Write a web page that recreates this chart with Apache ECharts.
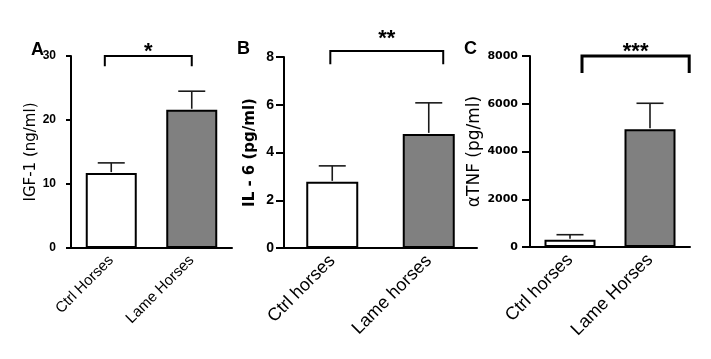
<!DOCTYPE html>
<html>
<head>
<meta charset="utf-8">
<script src="https://cdn.jsdelivr.net/npm/echarts@6/dist/echarts.min.js"></script>
<style>
  html, body { margin: 0; padding: 0; background: #fff; }
  #chart { width: 711px; height: 359px; }
</style>
</head>
<body>
<div id="chart"></div>
<script>
// panel A - IGF-1
const groupsA = ['Ctrl Horses', 'Lame Horses']
const igfMean = [11.7, 21.6]
const igfUpper = [13.3, 24.5]
// panel B - IL-6
const groupsB = ['Ctrl horses', 'Lame horses']
const il6Mean = [2.77, 4.78]
const il6Upper = [3.44, 6.08]
// panel C - TNF alpha
const groupsC = ['Ctrl horses', 'Lame Horses']
const tnfMean = [300, 4930]
const tnfUpper = [515, 6020]
// significance marks
const sigLabels = ['*', '**', '***']
const yTicksA = [0, 30, 10]
const yTicksB = [0, 8, 2]
const yTicksC = [0, 8000, 2000]

const barColors = ['#ffffff', '#808080']

const chart = echarts.init(document.getElementById('chart'))

function errorSeries(idx, mean, upper) {
  return {
    type: 'custom',
    xAxisIndex: idx,
    yAxisIndex: idx,
    z: 5,
    data: mean.map((m, i) => [i, m, upper[i]]),
    renderItem(params, api) {
      const p0 = api.coord([api.value(0), api.value(1)])
      const p1 = api.coord([api.value(0), api.value(2)])
      const style = { stroke: '#1a1a1a', lineWidth: 1.6 }
      return {
        type: 'group',
        children: [
          { type: 'line', shape: { x1: p0[0], y1: p0[1] - 1, x2: p1[0], y2: p1[1] }, style },
          { type: 'line', shape: { x1: p1[0] - 13.5, y1: p1[1], x2: p1[0] + 13.5, y2: p1[1] }, style }
        ]
      }
    }
  }
}

// bracket: [top, drop, fromOffset, toOffset] offsets in category bands from first group
function bracketSeries(idx, bracket, label, lw, fontSize, textGap) {
  return {
    type: 'custom',
    xAxisIndex: idx,
    yAxisIndex: idx,
    z: 6,
    clip: false,
    data: [[0].concat(bracket)],
    renderItem(params, api) {
      const band = api.size([1, 0])[0]
      const top = api.coord([0, api.value(1)])
      const drop = api.coord([0, api.value(2)])
      const xl = top[0] + api.value(3) * band
      const xr = top[0] + api.value(4) * band
      return {
        type: 'group',
        children: [
          {
            type: 'polyline',
            shape: { points: [[xl, drop[1]], [xl, top[1]], [xr, top[1]], [xr, drop[1]]] },
            style: { stroke: '#000', lineWidth: lw, fill: null }
          },
          {
            type: 'text',
            x: (xl + xr) / 2,
            y: top[1] - textGap,
            style: {
              text: label,
              fontFamily: 'Liberation Sans, Arial',
              fontSize: fontSize,
              fontWeight: 'bold',
              fill: '#000',
              align: 'center',
              verticalAlign: 'middle'
            }
          }
        ]
      }
    }
  }
}

function yAxisOf(idx, ticks, name, opts) {
  return {
    type: 'value',
    gridIndex: idx,
    min: ticks[0],
    max: ticks[1],
    interval: ticks[2],
    name: name,
    nameLocation: 'middle',
    nameGap: opts.nameGap,
    nameTextStyle: {
      fontFamily: opts.nameFont,
      fontSize: opts.nameSize,
      fontWeight: opts.nameWeight,
      color: '#000'
    },
    splitLine: { show: false },
    axisLine: { show: true, lineStyle: { color: '#000', width: 2 } },
    axisTick: { show: true, length: opts.tickLen, lineStyle: { color: '#000', width: 2 } },
    axisLabel: {
      margin: opts.labelMargin,
      fontFamily: opts.labelFont,
      fontSize: opts.labelSize,
      fontWeight: 'bold',
      color: '#000',
      formatter: v => String(v)
    }
  }
}

function xAxisOf(idx, cats, fontSize) {
  return {
    type: 'category',
    gridIndex: idx,
    data: cats,
    axisLine: { lineStyle: { color: '#000', width: 2 } },
    axisTick: { alignWithLabel: true, length: 6, lineStyle: { color: '#000', width: 2 } },
    axisLabel: {
      rotate: 45,
      margin: 10,
      interval: 0,
      fontFamily: 'Liberation Sans, Arial',
      fontSize: fontSize,
      color: '#000'
    }
  }
}

function barSeries(idx, values, width) {
  return {
    type: 'bar',
    xAxisIndex: idx,
    yAxisIndex: idx,
    barWidth: width,
    data: values.map((v, i) => ({ value: v, itemStyle: { color: barColors[i] } })),
    itemStyle: { borderColor: '#000', borderWidth: 2 }
  }
}

const letterStyle = { fontFamily: 'Liberation Sans, Arial', fontSize: 18, fontWeight: 'bold', color: '#000' }

const option = {
  animation: false,
  title: [
    { text: 'A', left: 31, top: 41, padding: 0, textStyle: letterStyle },
    { text: 'B', left: 237, top: 40, padding: 0, textStyle: letterStyle },
    { text: 'C', left: 464, top: 40, padding: 0, textStyle: letterStyle }
  ],
  grid: [
    { left: 71, top: 56, width: 161, height: 192 },
    { left: 284, top: 57, width: 193, height: 191 },
    { left: 530, top: 56, width: 160, height: 191 }
  ],
  xAxis: [
    xAxisOf(0, groupsA, 15),
    xAxisOf(1, groupsB, 18),
    xAxisOf(2, groupsC, 18)
  ],
  yAxis: [
    yAxisOf(0, yTicksA, 'IGF-1 (ng/ml)', {
      nameGap: 29, nameFont: 'DejaVu Sans', nameSize: 15, nameWeight: 'normal',
      tickLen: 5, labelMargin: 15, labelFont: 'Liberation Sans, Arial', labelSize: 12
    }),
    yAxisOf(1, yTicksB, 'IL - 6 (pg/ml)', {
      nameGap: 26, nameFont: 'DejaVu Sans', nameSize: 15, nameWeight: 'bold',
      tickLen: 8, labelMargin: 10, labelFont: 'Liberation Sans, Arial', labelSize: 14
    }),
    yAxisOf(2, yTicksC, 'αTNF (pg/ml)', {
      nameGap: 38, nameFont: 'DejaVu Sans', nameSize: 17, nameWeight: 'normal',
      tickLen: 8, labelMargin: 12, labelFont: 'DejaVu Sans', labelSize: 11
    })
  ],
  series: [
    barSeries(0, igfMean, 51),
    errorSeries(0, igfMean, igfUpper),
    bracketSeries(0, [30, 28.4, -0.08, 1.0], sigLabels[0], 2, 22, 4),
    barSeries(1, il6Mean, 52),
    errorSeries(1, il6Mean, il6Upper),
    bracketSeries(1, [8.25, 7.7, -0.02, 1.15], sigLabels[1], 2, 22, 12),
    barSeries(2, tnfMean, 51),
    errorSeries(2, tnfMean, tnfUpper),
    bracketSeries(2, [8000, 7290, 0.15, 1.49], sigLabels[2], 3, 22, 4)
  ]
}

chart.setOption(option)
</script>
</body>
</html>
